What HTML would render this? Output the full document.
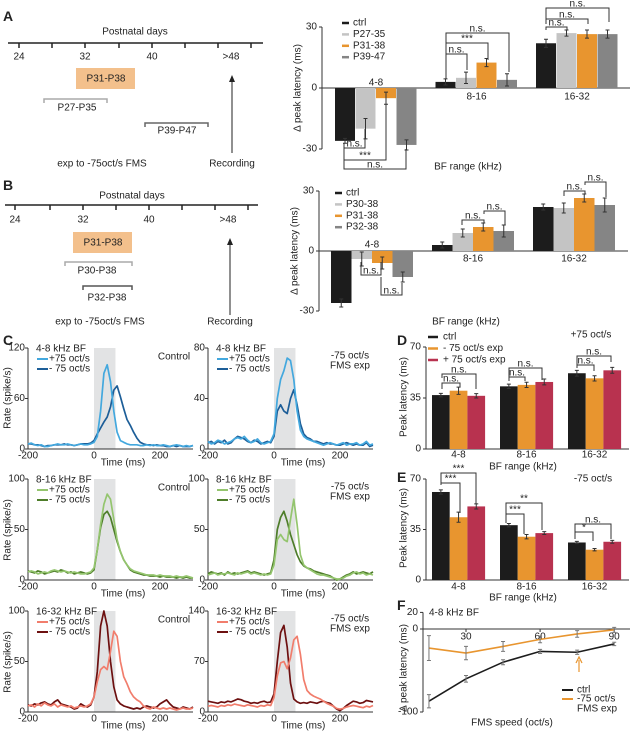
<!DOCTYPE html>
<html><head><meta charset="utf-8">
<style>
html,body{margin:0;padding:0;background:#fff;}
svg{display:block;font-family:"Liberation Sans",Arial,sans-serif;font-size:10px;fill:#222;}
text{dominant-baseline:central;}
.pl{font-size:14px;font-weight:bold;}
</style></head>
<body>
<svg id="fig" width="632" height="733" viewBox="0 0 632 733">
<!-- Panel labels -->
<text class="pl" x="3" y="16">A</text>
<text class="pl" x="3" y="185">B</text>
<text class="pl" x="3" y="340">C</text>
<text class="pl" x="397" y="340">D</text>
<text class="pl" x="397" y="477">E</text>
<text class="pl" x="397" y="605">F</text>

<!-- Timeline A -->
<g stroke="#222" stroke-width="1.5">
<line x1="8" y1="43" x2="263" y2="43"/>
<line x1="19" y1="43" x2="19" y2="48"/><line x1="52" y1="43" x2="52" y2="48"/><line x1="85" y1="43" x2="85" y2="48"/><line x1="119" y1="43" x2="119" y2="48"/><line x1="152" y1="43" x2="152" y2="48"/><line x1="185" y1="43" x2="185" y2="48"/><line x1="218" y1="43" x2="218" y2="48"/><line x1="251" y1="43" x2="251" y2="48"/>
</g>
<text x="135" y="32" text-anchor="middle">Postnatal days</text>
<text x="19" y="57" text-anchor="middle">24</text>
<text x="85" y="57" text-anchor="middle">32</text>
<text x="152" y="57" text-anchor="middle">40</text>
<text x="231" y="57" text-anchor="middle">&gt;48</text>
<rect x="76" y="68" width="59" height="21" fill="#f3c08c"/>
<text x="106" y="79" text-anchor="middle">P31-P38</text>
<path d="M44,103 V99 H107 V103" fill="none" stroke="#aaa" stroke-width="1.5"/>
<text x="77" y="108" text-anchor="middle">P27-P35</text>
<path d="M145,127 V123 H208 V127" fill="none" stroke="#666" stroke-width="1.5"/>
<text x="177" y="131" text-anchor="middle">P39-P47</text>
<line x1="232" y1="153" x2="232" y2="80" stroke="#222" stroke-width="1"/>
<path d="M229,82 L232,75 L235,82 Z" fill="#222"/>
<text x="102" y="164" text-anchor="middle">exp to -75oct/s FMS</text>
<text x="232" y="164" text-anchor="middle">Recording</text>

<!-- Timeline B -->
<g stroke="#222" stroke-width="1.5">
<line x1="5" y1="205" x2="258" y2="205"/>
<line x1="15" y1="205" x2="15" y2="210"/><line x1="50" y1="205" x2="50" y2="210"/><line x1="83" y1="205" x2="83" y2="210"/><line x1="116" y1="205" x2="116" y2="210"/><line x1="149" y1="205" x2="149" y2="210"/><line x1="182" y1="205" x2="182" y2="210"/><line x1="215" y1="205" x2="215" y2="210"/><line x1="248" y1="205" x2="248" y2="210"/>
</g>
<text x="132" y="196" text-anchor="middle">Postnatal days</text>
<text x="15" y="220" text-anchor="middle">24</text>
<text x="83" y="220" text-anchor="middle">32</text>
<text x="149" y="220" text-anchor="middle">40</text>
<text x="228" y="220" text-anchor="middle">&gt;48</text>
<rect x="73" y="232" width="59" height="21" fill="#f3c08c"/>
<text x="103" y="243" text-anchor="middle">P31-P38</text>
<path d="M65,266 V262 H132 V266" fill="none" stroke="#aaa" stroke-width="1.5"/>
<text x="97" y="271" text-anchor="middle">P30-P38</text>
<path d="M83,290 V286 H132 V290" fill="none" stroke="#555" stroke-width="1.5"/>
<text x="107" y="298" text-anchor="middle">P32-P38</text>
<line x1="230" y1="315" x2="230" y2="243" stroke="#222" stroke-width="1"/>
<path d="M227,245 L230,238 L233,245 Z" fill="#222"/>
<text x="100" y="322" text-anchor="middle">exp to -75oct/s FMS</text>
<text x="230" y="322" text-anchor="middle">Recording</text>
</svg>
<script>
// ---------- DATA ----------
const bfCats = ['4-8','8-16','16-32'];
// Panel A
const aCtrl = [-26, 3, 22];     const aCtrlErr = [1.2, 1.5, 2];
const aP2735 = [-20, 5, 27];    const aP2735Err = [5, 2.8, 1.5];
const aP3138 = [-5, 12.5, 26.5];const aP3138Err = [3, 2, 2];
const aP3947 = [-28, 4, 26.5];  const aP3947Err = [2.5, 3, 2];
const aTicks = [30, 0, -30];
// Panel B
const bCtrl = [-26, 3, 22];     const bCtrlErr = [2, 1.5, 1.5];
const bP3038 = [-4, 9, 21.5];   const bP3038Err = [3.5, 2, 2.5];
const bP3138 = [-6, 12, 26.5];  const bP3138Err = [3, 2, 2];
const bP3238 = [-13, 10, 23];   const bP3238Err = [2.5, 3, 3.5];
const bTicks = [30, 0, -30];
// Panel D (+75 oct/s)
const dCtrl = [37, 43, 52];     const dCtrlErr = [1.2, 1.5, 2];
const dMinus = [40, 44, 48.5];  const dMinusErr = [2.5, 1.8, 1.8];
const dPlus = [36.5, 46, 54];   const dPlusErr = [1.5, 2, 2];
const dTicks = [70, 35, 0];
// Panel E (-75 oct/s)
const eCtrl = [61, 38, 26];     const eCtrlErr = [1.5, 1.2, 0.8];
const eMinus = [43.5, 30, 21];  const eMinusErr = [3.5, 1.5, 0.8];
const ePlus = [51, 32.5, 26.5]; const ePlusErr = [1.8, 1, 1];
const eTicks = [70, 35, 0];
// Panel F
const fSpeeds = [15, 30, 45, 60, 75, 90];
const fCtrl = [-87, -60, -40, -27, -28, -18];
const fCtrlErr = [8, 4, 3, 2.5, 2.5, 2];
const fExp = [-23, -29, -21, -12.5, -6, -1];
const fExpErr = [15, 8, 6, 4, 4, 3];
const fYTicks = [20, 0, -100];
const fXTicks = [30, 60, 90];
// Panel C PSTHs (time -200..300 step 10)
const psthTimes = [-200,-190,-180,-170,-160,-150,-140,-130,-120,-110,-100,-90,-80,-70,-60,-50,-40,-30,-20,-10,0,10,20,30,40,50,60,70,80,90,100,110,120,130,140,150,160,170,180,190,200,210,220,230,240,250,260,270,280,290,300];
const c1CtrlPlus = [6,7,5,4,5,3,3,4,5,6,5,5,6,5,4,5,6,5,5,6, 8,15,45,90,100,80,45,20,10,8,6,5,5,5,4,4,5,4,5,4,4,5,4,3,4,5,4,3,4,3,4];
const c1CtrlMinus = [6,6,5,5,4,3,4,4,5,5,5,6,5,5,4,5,6,6,6,7, 10,18,25,32,38,50,70,75,62,48,35,28,20,13,8,6,5,5,4,5,4,4,3,3,4,3,4,3,3,3,4];
const c1ExpPlus = [6,4,5,7,6,4,5,6,8,9,8,10,7,5,6,8,5,4,5,6, 12,40,55,62,72,70,55,30,15,10,8,7,6,5,4,3,4,5,4,3,4,5,3,4,4,5,3,4,6,3,4];
const c1ExpMinus = [5,6,4,6,5,7,4,5,8,10,9,8,6,5,7,6,4,5,6,5, 10,30,35,30,28,40,47,35,20,12,9,8,6,6,5,4,5,4,4,3,3,4,5,4,3,4,3,3,5,2,3];
const c2CtrlPlus = [8,9,8,6,7,8,7,9,10,9,8,9,8,7,8,7,6,6,7,8, 12,30,55,75,85,80,60,40,28,20,15,11,9,8,7,6,5,5,5,4,5,4,4,4,3,4,3,3,4,3,2];
const c2CtrlMinus = [9,8,7,9,8,6,7,8,9,8,10,9,7,8,6,7,8,7,6,7, 10,30,52,65,68,62,50,38,28,20,15,10,8,7,6,5,5,4,4,4,3,4,3,3,3,2,3,2,3,2,2];
const c2ExpPlus = [5,6,7,5,6,6,7,6,5,7,6,7,8,6,7,6,5,6,5,6, 15,40,45,40,38,60,80,55,25,15,12,10,8,6,5,5,4,3,2,1,1,2,4,5,7,8,6,7,5,6,5];
const c2ExpMinus = [6,8,7,6,7,5,8,6,7,6,7,8,9,7,8,7,6,5,6,7, 20,50,62,68,58,45,35,25,18,14,12,11,9,8,7,6,5,4,2,0,1,3,5,6,8,6,7,8,7,6,8];
const c3CtrlPlus = [6,7,5,8,6,9,7,6,8,5,7,6,5,6,4,5,6,5,6,8, 15,30,42,45,42,60,80,75,50,35,28,20,15,12,10,6,4,3,5,4,3,4,3,4,3,2,3,4,3,3,4];
const c3CtrlMinus = [7,6,8,7,9,10,8,7,10,12,8,7,6,5,3,4,8,6,5,7, 15,40,85,100,85,50,25,12,8,6,5,4,3,4,3,5,6,5,4,5,8,10,12,8,5,4,3,5,4,3,5];
const c3ExpPlus = [8,9,8,7,9,8,10,9,11,10,9,8,10,9,8,7,9,8,10,9, 20,50,68,70,60,75,100,105,80,45,30,25,22,20,18,15,12,10,8,5,4,5,7,8,9,8,7,6,8,7,9];
const c3ExpMinus = [15,14,13,12,14,13,15,14,16,18,17,15,14,12,13,12,14,15,13,14, 25,70,110,120,90,40,18,14,12,13,12,14,13,12,14,15,13,12,8,4,2,5,9,12,15,14,12,13,16,15,14];

// ---------- HELPERS ----------
const NS = 'http://www.w3.org/2000/svg';
const svg = document.getElementById('fig');
function mk(tag, attrs, parent) {
  const e = document.createElementNS(NS, tag);
  for (const k in attrs) e.setAttribute(k, attrs[k]);
  (parent || svg).appendChild(e);
  return e;
}
function label(x, y, s, name, anchor, extra) {
  const t = mk('text', Object.assign({x: x, y: y, 'text-anchor': anchor || 'middle'}, extra || {}));
  t.textContent = s;
  
  
  return t;
}
function bracket(x1, x2, y, d1, d2, s, name) {
  const p = mk('path', {d: 'M' + x1 + ',' + (y + d1) + ' V' + y + ' H' + x2 + ' V' + (y + d2), fill: 'none', stroke: '#333', 'stroke-width': 1});
  
  
  label((x1 + x2) / 2, y - 4, s, name + '-label');
}

function barChart(o) {
  const g = mk('g', {});
  
  
  const Y = v => o.zeroY - v * o.pxPer;
  // axes
  const ya = mk('line', {x1: o.axisX, y1: Y(o.ticks[0]), x2: o.axisX, y2: Y(o.ticks[o.ticks.length - 1]), stroke: '#333', 'stroke-width': 1}, g);
  
  
  const xa = mk('line', {x1: o.axisX, y1: o.zeroY, x2: o.axisEnd, y2: o.zeroY, stroke: '#333', 'stroke-width': 1}, g);
  
  
  o.ticks.forEach(t => {
    const tk = mk('line', {x1: o.axisX - 3, y1: Y(t), x2: o.axisX, y2: Y(t), stroke: '#333'}, g);
    
    
    label(o.axisX - 5, Y(t), String(t), 'y-tick-label', 'end');
  });
  o.series.forEach((s, j) => {
    s.vals.forEach((v, i) => {
      const x = o.gStart + i * o.gStep + j * o.bStep;
      const r = mk('rect', {x: x, y: Math.min(Y(v), o.zeroY), width: o.bW, height: Math.abs(Y(v) - o.zeroY), fill: s.color}, g);
      
      
      const cx = x + o.bW / 2, e = s.errs[i];
      const eb = mk('path', {d: 'M' + (cx - 2) + ',' + Y(v + e) + 'H' + (cx + 2) + 'M' + cx + ',' + Y(v + e) + 'V' + Y(v - e) + 'M' + (cx - 2) + ',' + Y(v - e) + 'H' + (cx + 2), stroke: '#333', 'stroke-width': 1, fill: 'none'}, g);
      
      
    });
  });
  bfCats.forEach((c, i) => {
    label(o.gStart + i * o.gStep + o.gW / 2, o.catY[i], c, 'category-label-' + c);
  });
}

function psth(o) {
  const W = 165, H = 101;
  const X = t => o.x + (t + 200) / 500 * W;
  const Y = v => o.y + H - v / o.ymax * H;
  const sh = mk('rect', {x: X(0), y: o.y, width: X(65) - X(0), height: H, fill: '#e2e3e4'});
  
  
  const ya = mk('line', {x1: o.x, y1: o.y, x2: o.x, y2: o.y + H, stroke: '#333'});
  
  
  const xa = mk('line', {x1: o.x, y1: o.y + H, x2: o.x + W, y2: o.y + H, stroke: '#333'});
  
  
  o.yt.forEach(t => {
    const tk = mk('line', {x1: o.x - 3, y1: Y(t), x2: o.x, y2: Y(t), stroke: '#333'});
    
    
    label(o.x - 3, Y(t), String(t), 'y-tick-label', 'end');
  });
  [-200, 0, 200].forEach(t => {
    label(X(t), o.y + H + 7, String(t), 'x-tick-label');
  });
  label(o.x + 95, o.y + H + 14, 'Time (ms)', 'x-axis-title');
  [[o.minus, o.cDark, 'minus-75'], [o.plus, o.cLight, 'plus-75']].forEach(([arr, col, nm]) => {
    const d = arr.map((v, i) => (i ? 'L' : 'M') + X(psthTimes[i]).toFixed(1) + ',' + Y(v).toFixed(1)).join('');
    const p = mk('path', {d: d, fill: 'none', stroke: col, 'stroke-width': 1.7, 'stroke-linejoin': 'round'});
    
    
  });
  const lx = o.x + 9;
  label(lx - 1, o.y + 1, o.title, 'psth-title', 'start');
  const l1 = mk('line', {x1: lx, y1: o.y + 11, x2: lx + 11, y2: o.y + 11, stroke: o.cLight, 'stroke-width': 2});
  
  
  label(lx + 12, o.y + 11, '+75 oct/s', 'legend-entry-plus', 'start');
  const l2 = mk('line', {x1: lx, y1: o.y + 21, x2: lx + 11, y2: o.y + 21, stroke: o.cDark, 'stroke-width': 2});
  
  
  label(lx + 12, o.y + 21, '- 75 oct/s', 'legend-entry-minus', 'start');
  if (o.exp) {
    label(350, o.y + 8, '-75 oct/s', 'condition-label');
    label(350, o.y + 18, 'FMS exp', 'condition-label-2');
  } else {
    label(174, o.y + 9, 'Control', 'condition-label');
  }
}

// ---------- PANEL A ----------
barChart({name: 'chart-a', axisX: 322, axisEnd: 630, zeroY: 88, pxPer: 61 / 30, ticks: aTicks,
  gStart: 335, gStep: 100.5, bStep: 20.5, bW: 20, gW: 82, catY: [83, 97, 97],
  series: [
    {key: 'ctrl', vals: aCtrl, errs: aCtrlErr, color: '#1c1c1c'},
    {key: 'p27-35', vals: aP2735, errs: aP2735Err, color: '#c4c4c4'},
    {key: 'p31-38', vals: aP3138, errs: aP3138Err, color: '#e8952f'},
    {key: 'p39-47', vals: aP3947, errs: aP3947Err, color: '#858585'}]});
label(298, 88, 'Δ peak latency (ms)', 'y-axis-title-a', 'middle', {transform: 'rotate(-90 298 88)'});
label(468, 167, 'BF range (kHz)', 'x-axis-title-a');
[['ctrl', '#1c1c1c'], ['P27-35', '#c4c4c4'], ['P31-38', '#e8952f'], ['P39-47', '#858585']].forEach((e, i) => {
  const l = mk('line', {x1: 342, y1: 23 + i * 11.4, x2: 349, y2: 23 + i * 11.4, stroke: e[1], 'stroke-width': 2.5});
  
  
  label(353, 23 + i * 11.4, e[0], 'legend-entry', 'start');
});
bracket(546, 609, 8, 16, 14, 'n.s.', 'sig-a-1632-1');
bracket(546, 588, 19, 5, 5, 'n.s.', 'sig-a-1632-2');
bracket(546, 567, 27, 3, 3, 'n.s.', 'sig-a-1632-3');
bracket(446, 509, 33, 46, 39, 'n.s.', 'sig-a-816-1');
bracket(446, 488, 43, 36, 17, '***', 'sig-a-816-2');
bracket(446, 467, 54, 25, 16, 'n.s.', 'sig-a-816-3');
bracket(344, 365, 148, -5, -19, 'n.s.', 'sig-a-48-1');
bracket(344, 386, 160, -17, -60, '***', 'sig-a-48-2');
bracket(344, 406, 169, -26, -20, 'n.s.', 'sig-a-48-3');

// ---------- PANEL B ----------
barChart({name: 'chart-b', axisX: 319, axisEnd: 628, zeroY: 251, pxPer: 60 / 30, ticks: bTicks,
  gStart: 331, gStep: 101, bStep: 20.5, bW: 20.5, gW: 82, catY: [245, 259, 259],
  series: [
    {key: 'ctrl', vals: bCtrl, errs: bCtrlErr, color: '#1c1c1c'},
    {key: 'p30-38', vals: bP3038, errs: bP3038Err, color: '#c4c4c4'},
    {key: 'p31-38', vals: bP3138, errs: bP3138Err, color: '#e8952f'},
    {key: 'p32-38', vals: bP3238, errs: bP3238Err, color: '#858585'}]});
label(295, 251, 'Δ peak latency (ms)', 'y-axis-title-b', 'middle', {transform: 'rotate(-90 295 251)'});
label(466, 322, 'BF range (kHz)', 'x-axis-title-b');
[['ctrl', '#1c1c1c'], ['P30-38', '#c4c4c4'], ['P31-38', '#e8952f'], ['P32-38', '#858585']].forEach((e, i) => {
  const l = mk('line', {x1: 335, y1: 193 + i * 11.4, x2: 342, y2: 193 + i * 11.4, stroke: e[1], 'stroke-width': 2.5});
  
  
  label(346, 193 + i * 11.4, e[0], 'legend-entry', 'start');
});
bracket(462, 484, 220, 5, 3, 'n.s.', 'sig-b-816-1');
bracket(484, 505, 211, 3, 14, 'n.s.', 'sig-b-816-2');
bracket(564, 585, 191, 5, 3, 'n.s.', 'sig-b-1632-1');
bracket(585, 606, 182, 3, 15, 'n.s.', 'sig-b-1632-2');
bracket(361, 381, 275, -13, -13, 'n.s.', 'sig-b-48-1');
bracket(381, 402, 295, -18, -12, 'n.s.', 'sig-b-48-2');

// ---------- PANEL C ----------
psth({x: 28, y: 348, ymax: 120, yt: [120, 60, 0], plus: c1CtrlPlus, minus: c1CtrlMinus, cLight: '#43a8de', cDark: '#1d5e98', title: '4-8 kHz BF'});
psth({x: 208, y: 348, ymax: 80, yt: [80, 40, 0], plus: c1ExpPlus, minus: c1ExpMinus, cLight: '#43a8de', cDark: '#1d5e98', title: '4-8 kHz BF', exp: true});
psth({x: 28, y: 479, ymax: 100, yt: [100, 50, 0], plus: c2CtrlPlus, minus: c2CtrlMinus, cLight: '#94c56e', cDark: '#4e7d2a', title: '8-16 kHz BF'});
psth({x: 208, y: 479, ymax: 100, yt: [100, 50, 0], plus: c2ExpPlus, minus: c2ExpMinus, cLight: '#94c56e', cDark: '#4e7d2a', title: '8-16 kHz BF', exp: true});
psth({x: 28, y: 611, ymax: 100, yt: [100, 50, 0], plus: c3CtrlPlus, minus: c3CtrlMinus, cLight: '#f17d6c', cDark: '#6d1010', title: '16-32 kHz BF'});
psth({x: 208, y: 611, ymax: 140, yt: [140, 70, 0], plus: c3ExpPlus, minus: c3ExpMinus, cLight: '#f17d6c', cDark: '#6d1010', title: '16-32 kHz BF', exp: true});
[398, 530, 662].forEach((cy, i) => {
  label(8, cy, 'Rate (spike/s)', 'y-axis-title-c-row' + (i + 1), 'middle', {transform: 'rotate(-90 8 ' + cy + ')'});
});

// ---------- PANEL D ----------
barChart({name: 'chart-d', axisX: 426, axisEnd: 629, zeroY: 449, pxPer: 102 / 70, ticks: dTicks,
  gStart: 432, gStep: 68, bStep: 17.7, bW: 17.7, gW: 53, catY: [455, 455, 455],
  series: [
    {key: 'ctrl', vals: dCtrl, errs: dCtrlErr, color: '#1c1c1c'},
    {key: 'minus75-exp', vals: dMinus, errs: dMinusErr, color: '#e8952f'},
    {key: 'plus75-exp', vals: dPlus, errs: dPlusErr, color: '#b8324f'}]});
label(404, 397, 'Peak latency (ms)', 'y-axis-title-d', 'middle', {transform: 'rotate(-90 404 397)'});
label(523, 467, 'BF range (kHz)', 'x-axis-title-d');
label(591, 335, '+75 oct/s', 'condition-label-d');
[['ctrl', '#1c1c1c'], ['- 75 oct/s exp', '#e8952f'], ['+ 75 oct/s exp', '#b8324f']].forEach((e, i) => {
  const l = mk('line', {x1: 428, y1: 337 + i * 11.5, x2: 438, y2: 337 + i * 11.5, stroke: e[1], 'stroke-width': 2.5});
  
  
  label(443, 337 + i * 11.5, e[0], 'legend-entry', 'start');
});
bracket(442, 476, 374, 4, 15, 'n.s.', 'sig-d-48-1');
bracket(442, 460, 383, 6, 4, 'n.s.', 'sig-d-48-2');
bracket(509, 542, 368, 10, 12, 'n.s.', 'sig-d-816-1');
bracket(509, 525, 377, 4, 4, 'n.s.', 'sig-d-816-2');
bracket(577, 611, 356, 12, 6, 'n.s.', 'sig-d-1632-1');
bracket(577, 594, 365, 3, 6, 'n.s.', 'sig-d-1632-2');

// ---------- PANEL E ----------
barChart({name: 'chart-e', axisX: 426, axisEnd: 629, zeroY: 580, pxPer: 101 / 70, ticks: eTicks,
  gStart: 432, gStep: 68, bStep: 17.7, bW: 17.7, gW: 53, catY: [587, 587, 587],
  series: [
    {key: 'ctrl', vals: eCtrl, errs: eCtrlErr, color: '#1c1c1c'},
    {key: 'minus75-exp', vals: eMinus, errs: eMinusErr, color: '#e8952f'},
    {key: 'plus75-exp', vals: ePlus, errs: ePlusErr, color: '#b8324f'}]});
label(404, 528, 'Peak latency (ms)', 'y-axis-title-e', 'middle', {transform: 'rotate(-90 404 528)'});
label(523, 598, 'BF range (kHz)', 'x-axis-title-e');
label(593, 479, '-75 oct/s', 'condition-label-e');
bracket(441, 476, 473, 12, 31, '***', 'sig-e-48-1');
bracket(441, 460, 483, 2, 30, '***', 'sig-e-48-2');
bracket(506, 542, 503, 20, 27, '**', 'sig-e-816-1');
bracket(506, 524, 514, 9, 20, '***', 'sig-e-816-2');
bracket(575, 611, 524, 15, 15, 'n.s.', 'sig-e-1632-1');
bracket(575, 593, 532, 7, 9, '*', 'sig-e-1632-2');

// ---------- PANEL F ----------
(function () {
  const X = s => 466 + (s - 30) * 2.47;
  const Y = v => 629 - v * 0.83;
  const ya = mk('line', {x1: 423, y1: Y(20), x2: 423, y2: Y(-100), stroke: '#333'});
  
  
  const xa = mk('line', {x1: 423, y1: Y(0), x2: 630, y2: Y(0), stroke: '#333'});
  
  
  fYTicks.forEach(t => {
    const tk = mk('line', {x1: 420, y1: Y(t), x2: 423, y2: Y(t), stroke: '#333'});
    
    
    label(418, Y(t), String(t), 'y-tick-label', 'end');
  });
  fXTicks.forEach(t => {
    const tk = mk('line', {x1: X(t), y1: Y(0), x2: X(t), y2: Y(0) + 3, stroke: '#333'});
    
    
    label(X(t), Y(0) + 8, String(t), 'x-tick-label');
  });
  [[fExp, fExpErr, '#e8952f', 'exp'], [fCtrl, fCtrlErr, '#1c1c1c', 'ctrl']].forEach(([v, er, col, nm]) => {
    const d = v.map((y, i) => (i ? 'L' : 'M') + X(fSpeeds[i]) + ',' + Y(y)).join('');
    const p = mk('path', {d: d, fill: 'none', stroke: col, 'stroke-width': 1.6});
    
    
    v.forEach((y, i) => {
      const cx = X(fSpeeds[i]);
      const eb = mk('path', {d: 'M' + (cx - 2) + ',' + Y(y + er[i]) + 'H' + (cx + 2) + 'M' + cx + ',' + Y(y + er[i]) + 'V' + Y(y - er[i]) + 'M' + (cx - 2) + ',' + Y(y - er[i]) + 'H' + (cx + 2), stroke: '#777', fill: 'none'});
      
      
    });
  });
  const ar = mk('path', {d: 'M579,672 V660 M576,663 L579,657 L582,663', stroke: '#e8952f', fill: 'none', 'stroke-width': 1.2});
  
  
  const l1 = mk('line', {x1: 562, y1: 690, x2: 573, y2: 690, stroke: '#1c1c1c', 'stroke-width': 2});
  
  
  label(577, 690, 'ctrl', 'legend-entry-ctrl', 'start');
  const l2 = mk('line', {x1: 562, y1: 699, x2: 573, y2: 699, stroke: '#e8952f', 'stroke-width': 2});
  
  
  label(577, 699, '-75 oct/s', 'legend-entry-exp', 'start');
  label(577, 709, 'FMS exp', 'legend-entry-exp-2', 'start');
  label(429, 613, '4-8 kHz BF', 'f-title', 'start');
  label(512, 723, 'FMS speed (oct/s)', 'x-axis-title-f');
  label(404, 668, 'Δ peak latency (ms)', 'y-axis-title-f', 'middle', {transform: 'rotate(-90 404 668)'});
})();
</script>
</body></html>
